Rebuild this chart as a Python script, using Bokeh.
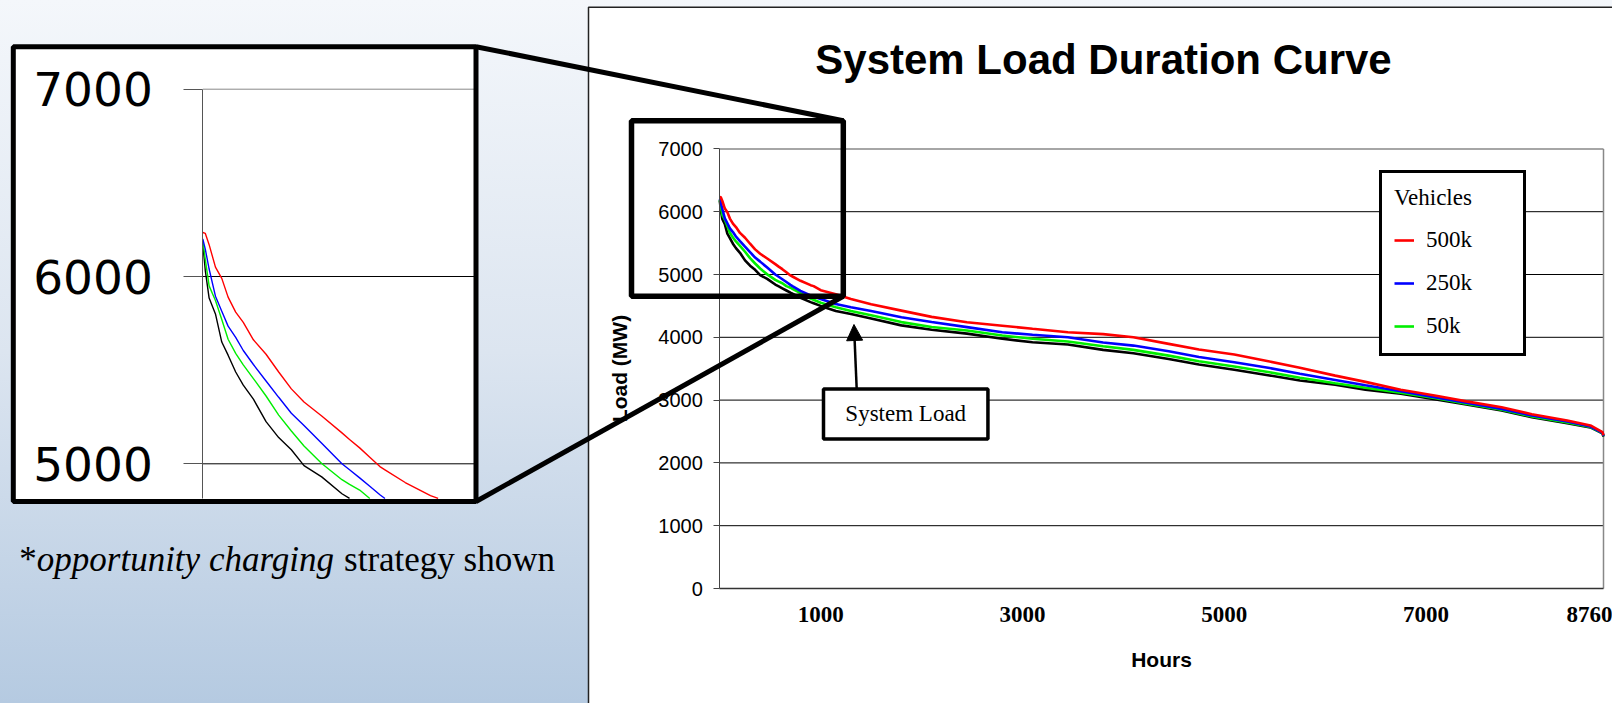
from bokeh.plotting import figure
from bokeh.models import (Range1d, FixedTicker, Legend, LegendItem, BoxAnnotation,
                          Label, Arrow, NormalHead, LinearAxis)
from bokeh.embed import file_html
from bokeh.resources import INLINE

# ---------------- data ----------------
hours = [0, 10, 25, 50, 75, 100, 130, 160, 200, 250, 300, 350, 400, 470, 550,
         580, 620, 660, 700, 720, 800, 900, 930, 1000, 1150, 1300, 1500, 1800,
         2100, 2450, 2800, 3100, 3450, 3800, 4100, 4450, 4750, 5100, 5450,
         5750, 6100, 6400, 6750, 7100, 7400, 7750, 8050, 8400, 8630, 8750, 8760]

load_500k = [6235, 6230, 6170, 6050, 5990, 5890, 5810, 5755, 5662, 5585, 5490,
             5400, 5330, 5255, 5165, 5130, 5085, 5035, 4985, 4968, 4900, 4830,
             4815, 4750, 4685, 4610, 4525, 4425, 4325, 4240, 4185, 4135, 4080,
             4050, 4000, 3895, 3805, 3725, 3615, 3515, 3390, 3290, 3165, 3070,
             2980, 2885, 2775, 2675, 2596, 2490, 2440]

load_250k = [6200, 6145, 6040, 5895, 5815, 5735, 5675, 5605, 5530, 5442, 5355,
             5270, 5205, 5110, 5000, 4968, 4925, 4880, 4835, 4815, 4740, 4668,
             4650, 4610, 4530, 4478, 4420, 4320, 4245, 4162, 4080, 4040, 4000,
             3918, 3868, 3778, 3685, 3604, 3510, 3420, 3320, 3235, 3142, 3040,
             2957, 2858, 2755, 2659, 2580, 2480, 2430]

load_50k = [6190, 6090, 5950, 5872, 5770, 5665, 5590, 5528, 5455, 5362, 5260,
            5175, 5095, 5002, 4915, 4890, 4860, 4815, 4790, 4773, 4705, 4618,
            4598, 4550, 4478, 4420, 4350, 4242, 4165, 4108, 4028, 3976, 3932,
            3858, 3800, 3708, 3620, 3535, 3443, 3355, 3268, 3196, 3116, 3030,
            2941, 2846, 2739, 2643, 2572, 2475, 2425]

system_load = [6175, 6030, 5885, 5800, 5650, 5580, 5490, 5420, 5345, 5225, 5140,
               5075, 4990, 4930, 4840, 4815, 4780, 4745, 4710, 4694, 4630, 4560,
               4542, 4500, 4420, 4370, 4300, 4190, 4120, 4058, 3976, 3922, 3885,
               3800, 3747, 3655, 3567, 3482, 3392, 3312, 3244, 3164, 3100, 3010,
               2930, 2834, 2728, 2632, 2565, 2470, 2420]

series_labels = ["500k", "250k", "50k"]
series_colors = ["#ff0000", "#0000ff", "#00ee00"]
base_color = "#000000"

x_ticks = [1000, 3000, 5000, 7000, 8760]
y_ticks = [0, 1000, 2000, 3000, 4000, 5000, 6000, 7000]
inset_ticks = [5000, 6000, 7000]

# ---------------- layout constants (pixels) ----------------
W, H = 1612, 703
PLOT_L, PLOT_R, PLOT_T, PLOT_B = 719.3, 1603.0, 148.4, 588.0
INSET_X0, INSET_KX = 202.3, 0.2530      # x pixel of hour 0, pixels per hour
INSET_Y7, INSET_KY = 88.7, 0.1873       # y pixel of 7000 MW, pixels per MW
INSET_BOTTOM_PX, INSET_RIGHT_PX = 498.0, 471.5

SERIF = "Liberation Serif"
SANS = "Liberation Sans"

x_max = hours[-1]
y_max = y_ticks[-1]
kx = (PLOT_R - PLOT_L) / x_max
ky = (PLOT_B - PLOT_T) / y_max

p = figure(width=W, height=H,
           x_range=Range1d(-PLOT_L / kx, (W - PLOT_L) / kx),
           y_range=Range1d(-(H - PLOT_B) / ky, y_max + PLOT_T / ky),
           output_backend="svg", toolbar_location=None, title=None,
           x_axis_location=None, y_axis_location=None,
           min_border=0, min_border_left=0, min_border_right=0,
           min_border_top=0, min_border_bottom=0,
           background_fill_color=None, border_fill_color=None,
           outline_line_color=None,
           styles={"background": "linear-gradient(180deg, #f4f7fb 0%, #dce5f0 50%, #b5cae1 100%)"})
p.xgrid.visible = False
p.ygrid.visible = False

inset_bottom = y_max - (INSET_BOTTOM_PX - INSET_Y7) / INSET_KY
inset_right = (INSET_RIGHT_PX - INSET_X0) / INSET_KX
p.extra_x_ranges = {"ix": Range1d(-INSET_X0 / INSET_KX, (W - INSET_X0) / INSET_KX)}
p.extra_y_ranges = {"iy": Range1d(y_max - (H - INSET_Y7) / INSET_KY, y_max + INSET_Y7 / INSET_KY)}

# ---------------- backgrounds ----------------
p.add_layout(BoxAnnotation(left=588, right=W + 10, top=6.7, bottom=H + 10,
                           left_units="canvas", right_units="canvas",
                           top_units="canvas", bottom_units="canvas",
                           fill_color="white", fill_alpha=1.0,
                           line_color="#222222", line_alpha=1.0, line_width=1.5,
                           level="image"))
p.add_layout(BoxAnnotation(left=12.8, right=475.5, top=46.2, bottom=501,
                           left_units="canvas", right_units="canvas",
                           top_units="canvas", bottom_units="canvas",
                           fill_color="white", fill_alpha=1.0, line_alpha=0,
                           level="image"))

# ---------------- inset (magnified view) ----------------
gi = [t for t in inset_ticks if t < y_max]
r = p.segment(x0=[0] * len(gi), x1=[inset_right + 10] * len(gi), y0=gi, y1=gi,
              line_color="black", line_width=1, x_range_name="ix", y_range_name="iy")
r.level = "underlay"
r = p.segment(x0=[0], x1=[inset_right + 10], y0=[y_max], y1=[y_max],
              line_color="#888888", line_width=1, x_range_name="ix", y_range_name="iy")
r.level = "underlay"

def inset_part(vals):
    k = next(i for i, v in enumerate(vals) if v <= inset_bottom + 1)
    return hours[:k + 1], vals[:k + 1]

for vals, col in [(system_load, base_color), (load_50k, series_colors[2]),
                  (load_250k, series_colors[1]), (load_500k, series_colors[0])]:
    hx, hy = inset_part(vals)
    p.line(hx, hy, line_color=col, line_width=1.4, x_range_name="ix", y_range_name="iy")

iax = LinearAxis(x_range_name="ix", y_range_name="iy", fixed_location=0,
                 bounds=(inset_bottom, y_max), ticker=FixedTicker(ticks=inset_ticks))
iax.major_tick_out = 19
iax.major_tick_in = 0
iax.minor_tick_out = 0
iax.minor_tick_in = 0
iax.major_tick_line_color = "#555555"
iax.axis_line_color = "#555555"
iax.major_label_standoff = 31
iax.major_label_text_font = "DejaVu Sans"
iax.major_label_text_font_size = "47px"
iax.major_label_text_color = "black"
p.add_layout(iax, "left")

p.add_layout(BoxAnnotation(left=12.8, right=475.5, top=46.2, bottom=501,
                           left_units="canvas", right_units="canvas",
                           top_units="canvas", bottom_units="canvas",
                           fill_alpha=0, line_color="black", line_alpha=1.0, line_width=5))

# caption
CAP_Y = 558.5
p.add_layout(Label(x=18.8, y=CAP_Y, x_units="canvas", y_units="canvas", text="*",
                   text_font=SERIF, text_font_size="35px", text_color="black",
                   text_baseline="alphabetic"))
p.add_layout(Label(x=36.3, y=CAP_Y, x_units="canvas", y_units="canvas",
                   text="opportunity charging", text_font=SERIF,
                   text_font_style="italic", text_font_size="35px",
                   text_color="black", text_baseline="alphabetic"))
p.add_layout(Label(x=334.8, y=CAP_Y, x_units="canvas", y_units="canvas",
                   text="\u00a0strategy shown", text_font=SERIF, text_font_size="35px",
                   text_color="black", text_baseline="alphabetic"))

# ---------------- main chart ----------------
gy = [t for t in y_ticks if 0 < t < y_max]
r = p.segment(x0=[0] * len(gy), x1=[x_max] * len(gy), y0=gy, y1=gy,
              line_color="black", line_width=1)
r.level = "underlay"
r = p.segment(x0=[0, x_max], x1=[x_max, x_max], y0=[y_max, 0], y1=[y_max, y_max],
              line_color="#888888", line_width=1.5)
r.level = "underlay"

r_base = p.line(hours, system_load, line_color=base_color, line_width=2.6)
r50 = p.line(hours, load_50k, line_color=series_colors[2], line_width=2.6)
r250 = p.line(hours, load_250k, line_color=series_colors[1], line_width=2.6)
r500 = p.line(hours, load_500k, line_color=series_colors[0], line_width=2.6)

xax = LinearAxis(fixed_location=0, bounds=(0, x_max), ticker=FixedTicker(ticks=x_ticks))
xax.major_tick_out = 0
xax.major_tick_in = 0
xax.minor_tick_out = 0
xax.minor_tick_in = 0
xax.axis_line_color = "#333333"
xax.axis_line_width = 1.5
xax.major_label_text_font = SERIF
xax.major_label_text_font_style = "bold"
xax.major_label_text_font_size = "23px"
xax.major_label_text_color = "black"
xax.major_label_standoff = 18
xax.axis_label = "Hours"
xax.axis_label_text_font = SANS
xax.axis_label_text_font_style = "bold"
xax.axis_label_text_font_size = "21px"
xax.axis_label_text_color = "black"
xax.axis_label_standoff = 23
p.add_layout(xax, "below")

yax = LinearAxis(fixed_location=0, bounds=(0, y_max), ticker=FixedTicker(ticks=y_ticks))
yax.major_tick_out = 6
yax.major_tick_in = 0
yax.minor_tick_out = 0
yax.minor_tick_in = 0
yax.axis_line_color = "#444444"
yax.major_tick_line_color = "#444444"
yax.major_label_text_font = SANS
yax.major_label_text_font_size = "20px"
yax.major_label_text_color = "black"
yax.major_label_standoff = 11
yax.axis_label = "Load (MW)"
yax.axis_label_text_font = SANS
yax.axis_label_text_font_style = "bold"
yax.axis_label_text_font_size = "21px"
yax.axis_label_text_color = "black"
yax.axis_label_standoff = 24
p.add_layout(yax, "left")

legend = Legend(items=[LegendItem(label=series_labels[0], renderers=[r500]),
                       LegendItem(label=series_labels[1], renderers=[r250]),
                       LegendItem(label=series_labels[2], renderers=[r50])],
                location=(1379, 347), title="Vehicles",
                title_text_font=SERIF, title_text_font_size="23px",
                title_text_font_style="normal", title_text_color="black",
                title_standoff=14,
                label_text_font=SERIF, label_text_font_size="23px",
                label_text_color="black",
                label_standoff=12, label_width=85, label_height=30,
                glyph_width=20, glyph_height=30, spacing=13, padding=12, margin=0,
                border_line_color="black", border_line_alpha=1.0, border_line_width=3,
                background_fill_color="white", background_fill_alpha=1.0)
p.add_layout(legend)

# title
p.add_layout(Label(x=1103, y=58.5, x_units="canvas", y_units="canvas",
                   text="System Load Duration Curve", text_font=SANS,
                   text_font_style="bold", text_font_size="42px",
                   text_align="center", text_baseline="alphabetic",
                   text_color="black"))

# "System Load" callout
p.add_layout(BoxAnnotation(left=1028, right=2658, top=3177, bottom=2381,
                           fill_color="white", fill_alpha=1.0,
                           line_color="black", line_alpha=1.0, line_width=3.5))
p.add_layout(Label(x=1843, y=2779, text="System Load", text_font=SERIF,
                   text_font_size="23px", text_align="center",
                   text_baseline="middle", text_color="black"))
p.add_layout(Arrow(end=NormalHead(size=16, fill_color="black", line_color="black"),
                   x_start=1357, y_start=3177, x_end=1330, y_end=4204,
                   line_color="black", line_width=2.5))

# zoom region box and connectors to the inset
p.add_layout(BoxAnnotation(left=631, right=842.8, top=120.3, bottom=295.8,
                           left_units="canvas", right_units="canvas",
                           top_units="canvas", bottom_units="canvas",
                           fill_alpha=0, line_color="black", line_alpha=1.0,
                           line_width=5.5))
p.add_layout(Arrow(end=None, x_start=475.5, y_start=46.2, x_end=842.8, y_end=120.3,
                   start_units="canvas", end_units="canvas",
                   line_color="black", line_width=5))
p.add_layout(Arrow(end=None, x_start=475.5, y_start=501, x_end=842.8, y_end=295.8,
                   start_units="canvas", end_units="canvas",
                   line_color="black", line_width=5))

open("out.html", "w").write(file_html(p, INLINE))
